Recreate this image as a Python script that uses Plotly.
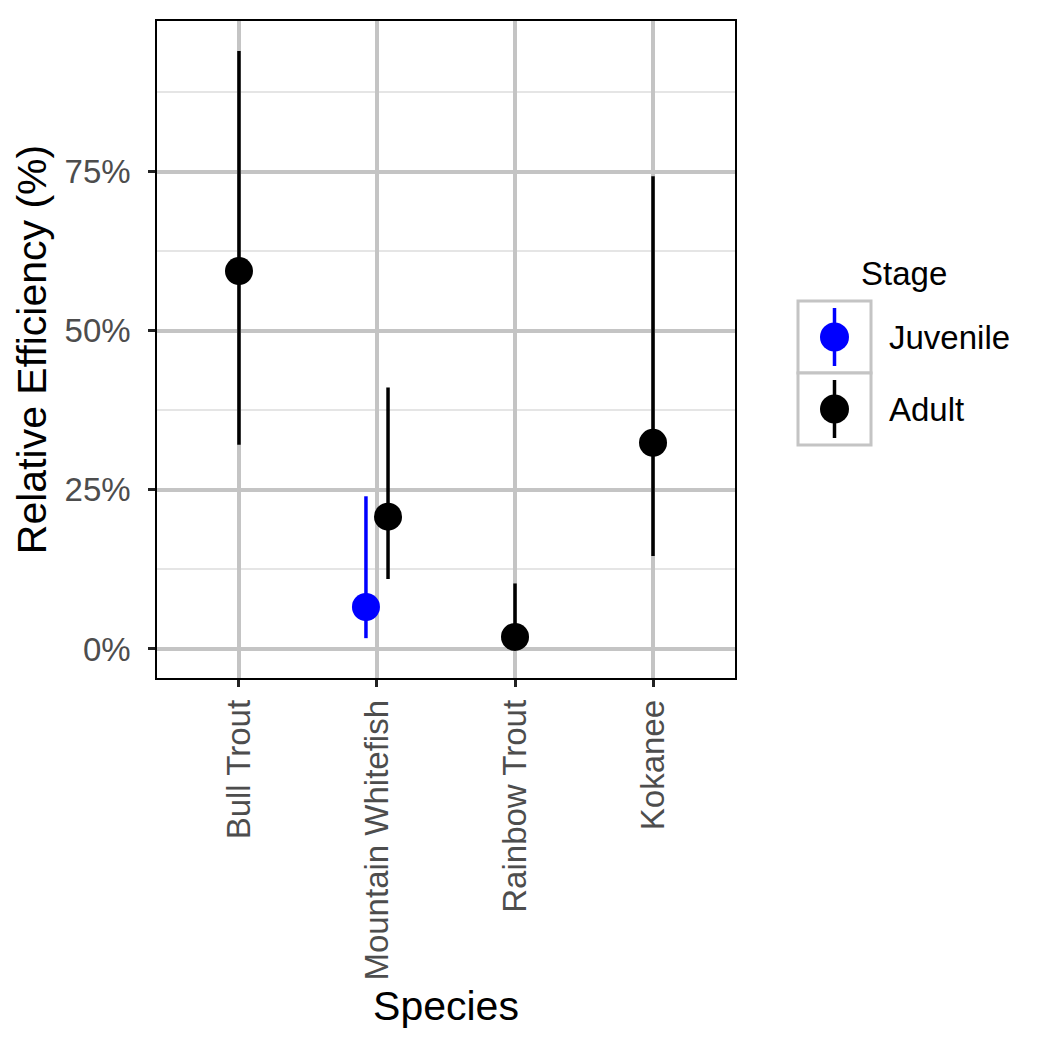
import plotly.graph_objects as go

species = ["Bull Trout", "Mountain Whitefish", "Rainbow Trout", "Kokanee"]

# Juvenile (only Mountain Whitefish)
juv_species = ["Mountain Whitefish"]
juv_est = [6.6]
juv_low = [1.7]
juv_high = [24.0]

# Adult
adult_species = ["Bull Trout", "Mountain Whitefish", "Rainbow Trout", "Kokanee"]
adult_est = [59.4, 20.8, 1.9, 32.4]
adult_low = [32.1, 11.0, 0.2, 14.6]
adult_high = [94.0, 41.1, 10.3, 74.3]

y_ticks = [0, 25, 50, 75]
y_ticktext = ["0%", "25%", "50%", "75%"]

DODGE = 0.08

def positions(names, shift, other):
    # dodge only where both stages are present (ggplot position_dodge)
    return [species.index(n) + 1 + (shift if n in other else 0) for n in names]

fig = go.Figure()

def add_series(names, est, low, high, color, shift, other):
    fig.add_trace(go.Scatter(
        x=positions(names, shift, other), y=est, mode="markers",
        marker=dict(color=color, size=28, line=dict(width=0)),
        error_y=dict(type="data", symmetric=False,
                     array=[h - e for h, e in zip(high, est)],
                     arrayminus=[e - l for e, l in zip(est, low)],
                     color=color, thickness=3.5, width=0),
        showlegend=False, hoverinfo="skip",
    ))

add_series(juv_species, juv_est, juv_low, juv_high, "#0000FF", -DODGE, adult_species)
add_series(adult_species, adult_est, adult_low, adult_high, "#000000", DODGE, juv_species)

font_family = "Liberation Sans, Arial, sans-serif"
TICK_SIZE = 33
TITLE_SIZE = 41

# page offset compensation (figure is drawn ~7px right/down in the page)
OFF = 7
pl, pr, pt, pb = 156, 734, 20, 677

fig.update_layout(
    width=1050, height=1050,
    margin=dict(l=pl - OFF, r=1050 - pr + OFF, t=pt - OFF, b=1050 - pb + OFF),
    paper_bgcolor="white", plot_bgcolor="white",
    font=dict(family=font_family, color="black"),
    xaxis=dict(
        range=[0.406, 4.594], tickvals=[1, 2, 3, 4], ticktext=species,
        tickangle=-90, tickfont=dict(size=TICK_SIZE, color="#4d4d4d"),
        showgrid=True, gridcolor="#c4c4c4", gridwidth=3.5,
        ticks="outside", ticklen=7, tickwidth=2.5, tickcolor="#222222",
        ticklabelstandoff=0,
        showline=True, linecolor="black", linewidth=1.5, mirror=True,
        zeroline=False,
        title=dict(text="Species", font=dict(size=TITLE_SIZE, color="black"), standoff=12),
    ),
    yaxis=dict(
        range=[-4.56, 98.7], tickvals=y_ticks, ticktext=y_ticktext,
        tickfont=dict(size=TICK_SIZE, color="#4d4d4d"),
        showgrid=True, gridcolor="#c4c4c4", gridwidth=3.5,
        minor=dict(tickvals=[12.5, 37.5, 62.5, 87.5], showgrid=True,
                   gridcolor="#e5e5e5", gridwidth=1.5, ticks=""),
        ticks="outside", ticklen=7, tickwidth=2.5, tickcolor="#222222",
        ticklabelstandoff=11,
        showline=True, linecolor="black", linewidth=1.5, mirror=True,
        zeroline=False,
        title=dict(text="Relative Efficiency (%)", font=dict(size=TITLE_SIZE, color="black"), standoff=5),
    ),
)

# Custom legend (ggplot-style keys), positioned relative to the plot area
def px(x):
    return (x - pl) / (pr - pl)

def py(y):
    return (pb - y) / (pb - pt)

legend_items = [("Juvenile", "#0000FF"), ("Adult", "#000000")]
box_l, box_r = 797, 870
box_tops = [300, 372]
box_h = 72
for (label, color), top in zip(legend_items, box_tops):
    fig.add_shape(type="rect", xref="paper", yref="paper",
                  x0=px(box_l), x1=px(box_r), y0=py(top + box_h), y1=py(top),
                  line=dict(color="#c4c4c4", width=3), fillcolor="white", layer="above")
    cx, cy = (box_l + box_r) / 2, top + box_h / 2
    fig.add_shape(type="line", xref="paper", yref="paper",
                  x0=px(cx), x1=px(cx), y0=py(cy + 29), y1=py(cy - 29),
                  line=dict(color=color, width=3.5), layer="above")
    fig.add_shape(type="circle", xref="paper", yref="paper",
                  x0=px(cx - 14.5), x1=px(cx + 14.5), y0=py(cy + 14.5), y1=py(cy - 14.5),
                  line=dict(color=color, width=0), fillcolor=color, layer="above")
    fig.add_annotation(xref="paper", yref="paper", x=px(886), y=py(cy),
                       text=label, showarrow=False, xanchor="left", yanchor="middle",
                       font=dict(size=TICK_SIZE, color="black", family=font_family))

fig.add_annotation(xref="paper", yref="paper", x=px(858), y=py(272),
                   text="Stage", showarrow=False, xanchor="left", yanchor="middle",
                   font=dict(size=TICK_SIZE, color="black", family=font_family))

fig.write_html("out.html")
